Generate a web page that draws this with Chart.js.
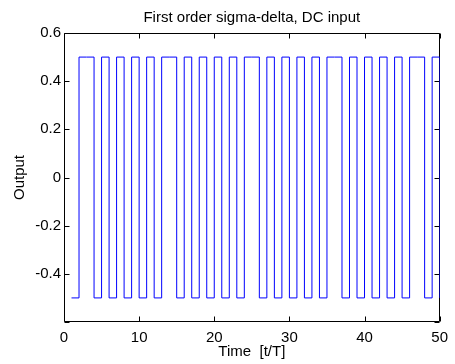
<!DOCTYPE html>
<html>
<head>
<meta charset="utf-8">
<script src="https://cdn.jsdelivr.net/npm/chart.js@4/dist/chart.umd.min.js"></script>
<style>
  html, body { margin: 0; padding: 0; background: #fff; }
  #wrap { width: 455px; height: 364px; }
</style>
</head>
<body>
<div id="wrap"><canvas id="sd"></canvas></div>
<script>
// Sample index n and quantizer output y[n] of a first order sigma-delta loop
const SAMPLE_N = [
   1,  2,  3,  4,  5,  6,  7,  8,  9, 10,
  11, 12, 13, 14, 15, 16, 17, 18, 19, 20,
  21, 22, 23, 24, 25, 26, 27, 28, 29, 30,
  31, 32, 33, 34, 35, 36, 37, 38, 39, 40,
  41, 42, 43, 44, 45, 46, 47, 48, 49, 50,
];
const OUTPUT = [
  -0.5,  0.5,  0.5, -0.5,  0.5, -0.5,  0.5, -0.5,  0.5, -0.5,
   0.5, -0.5,  0.5,  0.5, -0.5,  0.5, -0.5,  0.5, -0.5,  0.5,
  -0.5,  0.5, -0.5,  0.5,  0.5, -0.5,  0.5, -0.5,  0.5, -0.5,
   0.5, -0.5,  0.5, -0.5,  0.5,  0.5, -0.5,  0.5, -0.5,  0.5,
  -0.5,  0.5, -0.5,  0.5, -0.5,  0.5,  0.5, -0.5,  0.5, -0.5,
];
const X_TICKS = [0, 10, 20, 30, 40, 50];
const Y_TICKS = [-0.6, -0.4, -0.2, 0, 0.2, 0.4, 0.6];

const FONT = { family: '"Liberation Sans", Arial, Helvetica, sans-serif', size: 15 };
const INK = '#000';
const TICK_LEN = 5;

// MATLAB style box with inward ticks on all four sides
const boxAxes = {
  id: 'boxAxes',
  beforeDatasetsDraw(chart) {
    const { ctx, chartArea: a, scales: { x, y } } = chart;
    const L = Math.round(a.left) + 0.5;
    const R = Math.round(a.right) - 0.5;
    const T = Math.round(a.top) + 0.5;
    const B = Math.round(a.bottom) - 0.5;
    ctx.save();
    ctx.strokeStyle = INK;
    ctx.lineWidth = 1;
    ctx.beginPath();
    ctx.rect(L, T, R - L, B - T);
    X_TICKS.forEach(v => {
      const px = Math.round(x.getPixelForValue(v)) + 0.5;
      ctx.moveTo(px, B); ctx.lineTo(px, B - TICK_LEN);
      ctx.moveTo(px, T); ctx.lineTo(px, T + TICK_LEN);
    });
    Y_TICKS.forEach(v => {
      const py = Math.round(y.getPixelForValue(v)) + 0.5;
      ctx.moveTo(L, py); ctx.lineTo(L + TICK_LEN, py);
      ctx.moveTo(R, py); ctx.lineTo(R - TICK_LEN, py);
    });
    ctx.stroke();
    ctx.restore();
  },
};

new Chart(document.getElementById('sd'), {
  type: 'line',
  data: {
    datasets: [{
      data: SAMPLE_N.map((n, i) => ({ x: n, y: OUTPUT[i] })),
      borderColor: '#0000ff',
      borderWidth: 1,
      pointRadius: 0,
      stepped: true,
      fill: false,
    }],
  },
  options: {
    responsive: true,
    maintainAspectRatio: false,
    animation: false,
    layout: { padding: { left: 0, right: 6, top: 0, bottom: 0 } },
    plugins: {
      legend: { display: false },
      tooltip: { enabled: false },
      title: {
        display: true,
        text: 'First order sigma-delta, DC input',
        color: INK,
        font: { ...FONT, weight: 'normal' },
        fullSize: false,
        padding: { top: 9, bottom: 6 },
      },
    },
    scales: {
      x: {
        type: 'linear',
        min: 0,
        max: 50,
        afterFit: s => { s.height = 42; },
        afterBuildTicks: s => { s.ticks = X_TICKS.map(v => ({ value: v })); },
        grid: { display: false, drawTicks: false },
        border: { display: false },
        ticks: { color: INK, font: FONT, padding: 7, maxRotation: 0, autoSkip: false },
        title: {
          display: true,
          text: 'Time  [t/T]',
          color: INK,
          font: FONT,
          padding: { top: 0, bottom: 3 },
        },
      },
      y: {
        type: 'linear',
        min: -0.6,
        max: 0.6,
        afterFit: s => { s.width = 64; },
        afterBuildTicks: s => { s.ticks = Y_TICKS.map(v => ({ value: v })); },
        grid: { display: false, drawTicks: false },
        border: { display: false },
        ticks: {
          color: INK,
          font: FONT,
          padding: 3,
          autoSkip: false,
          // bottom label is left off, as in the original axes
          callback: v => (Math.abs(v + 0.6) < 1e-9 ? '' : String(+v.toFixed(1))),
        },
        title: {
          display: true,
          text: 'Output',
          color: INK,
          font: FONT,
          padding: { top: 11, bottom: 0 },
        },
      },
    },
  },
  plugins: [boxAxes],
});
</script>
</body>
</html>
